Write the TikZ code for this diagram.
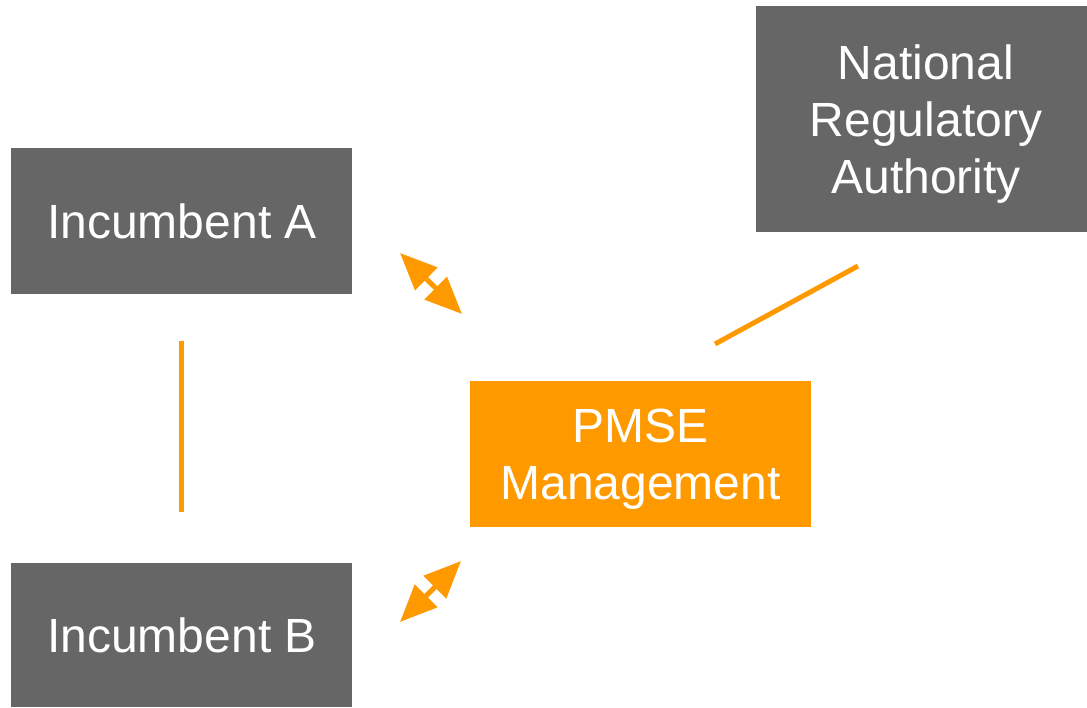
\documentclass[tikz,border=0pt]{standalone}
\usepackage{fontspec}
\setmainfont{Liberation Sans}
\usetikzlibrary{arrows.meta}
\definecolor{boxgray}{HTML}{666666}
\definecolor{pmseorange}{HTML}{FF9900}
\begin{document}
\begin{tikzpicture}[x=1pt,y=-1pt,
  graybox/.style={fill=boxgray,draw=none,inner sep=0pt},
  orangebox/.style={fill=pmseorange,draw=none,inner sep=0pt},
  boxtext/.style={text=white,font=\fontsize{48}{57}\selectfont,align=center,inner sep=0pt},
  link/.style={draw=pmseorange,line width=5pt},
  dblarrow/.style={draw=pmseorange,line width=5pt,{Triangle[length=37pt,width=31pt]}-{Triangle[length=37pt,width=31pt]}}]
\useasboundingbox (0,0) rectangle (1087,707);
\node[graybox,minimum width=341pt,minimum height=146pt] (incA) at (181.5,221) {};
\node[boxtext] (incAtext) at (182,221) {Incumbent A};
\node[graybox,minimum width=341pt,minimum height=144pt] (incB) at (181.5,635) {};
\node[boxtext] (incBtext) at (182,635) {Incumbent B};
\node[graybox,minimum width=331pt,minimum height=226pt] (nra) at (921.5,119) {};
\node[boxtext] (nratext) at (926,124) {National\\Regulatory\\Authority};
\node[orangebox,minimum width=341pt,minimum height=146pt] (pmse) at (640.5,454) {};
\node[boxtext] (pmsetext) at (640.5,459) {PMSE\\Management};
\coordinate (a1) at (181,341);
\coordinate (a2) at (181,512);
\coordinate (n1) at (715,344);
\coordinate (n2) at (858,266);
\coordinate (p1) at (400,253);
\coordinate (p2) at (462,314);
\coordinate (q1) at (400,622);
\coordinate (q2) at (461,561);
\draw[link] (a1) -- (a2);
\draw[link] (n1) -- (n2);
\draw[dblarrow] (p1) -- (p2);
\draw[dblarrow] (q1) -- (q2);
\end{tikzpicture}
\end{document}
